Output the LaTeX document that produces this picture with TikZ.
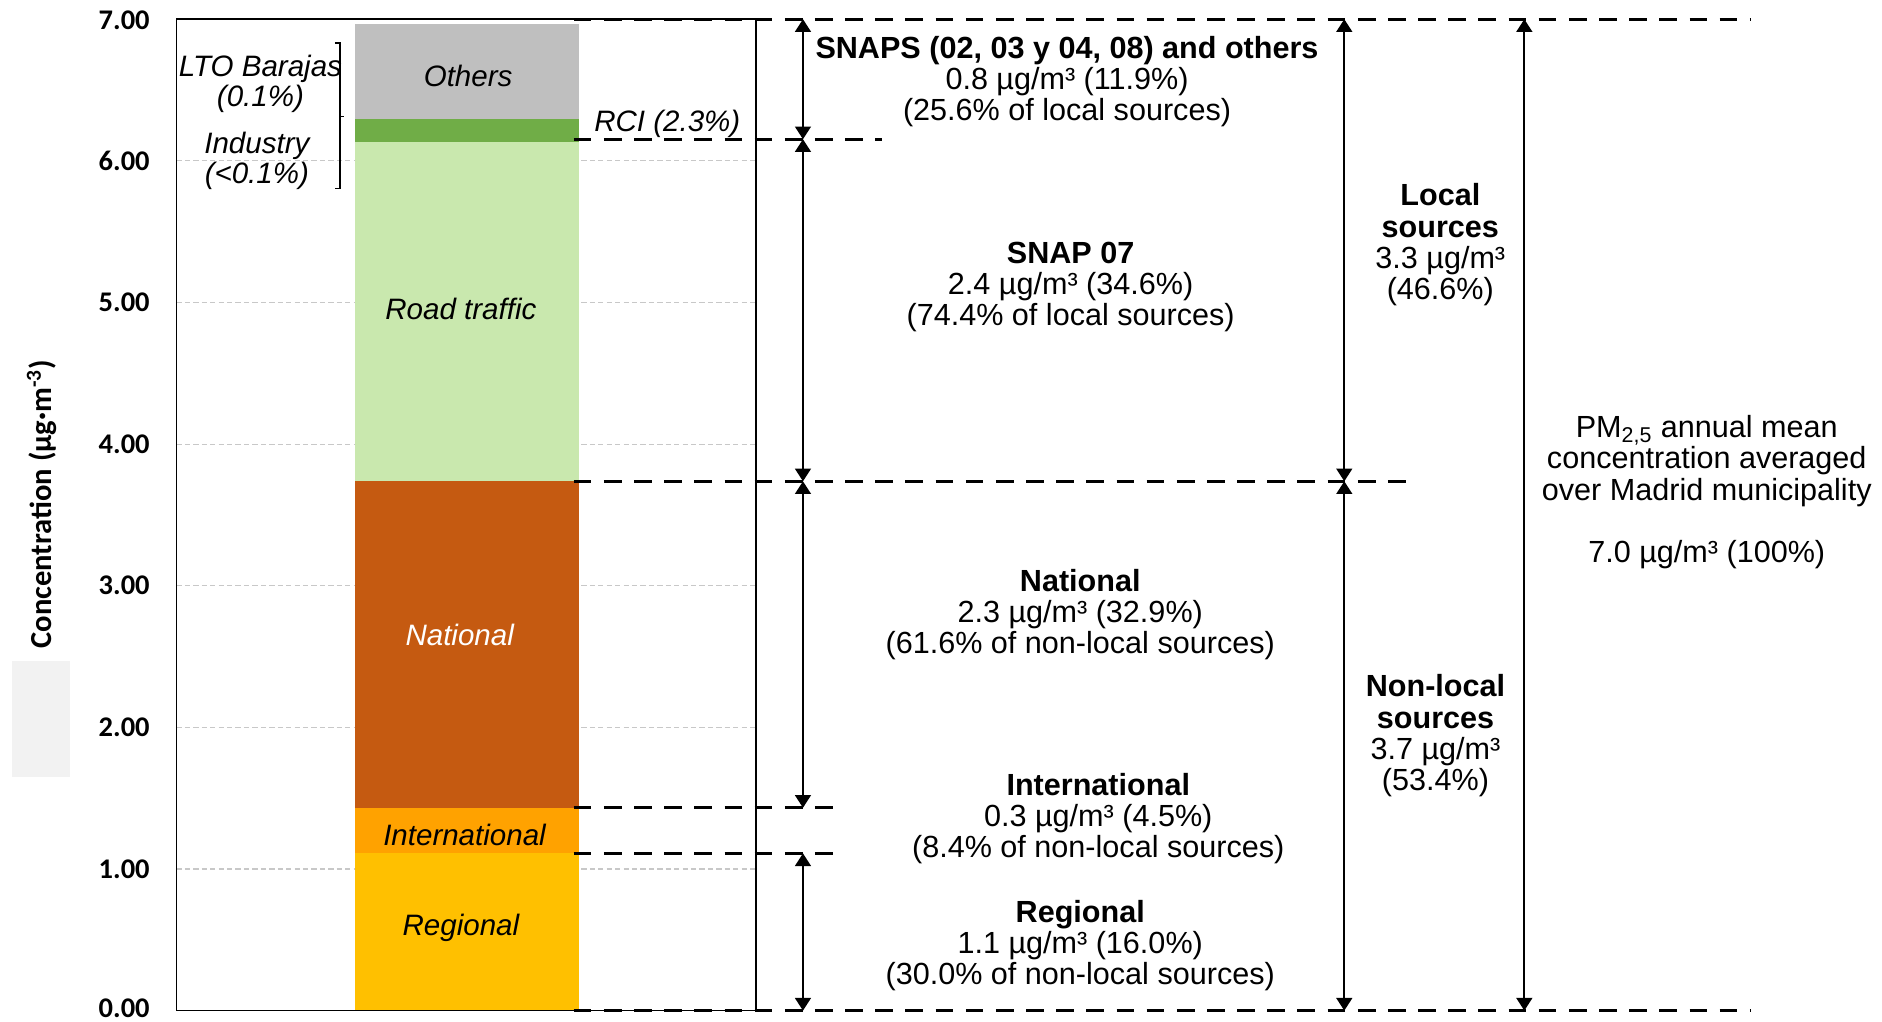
\documentclass[tikz,border=0pt]{standalone}
\usepackage{fontspec}
\setmainfont{Liberation Sans}
\newfontfamily\calibri{Carlito}
\usepackage{tikz}
\usetikzlibrary{arrows.meta}
\definecolor{regional}{HTML}{FFC000}
\definecolor{intl}{HTML}{FFA200}
\definecolor{national}{HTML}{C55A11}
\definecolor{road}{HTML}{C9E8AE}
\definecolor{rci}{HTML}{70AD47}
\definecolor{others}{HTML}{BFBFBF}
\definecolor{gridgray}{HTML}{C8C8C8}
\definecolor{boxgray}{HTML}{F2F2F2}

\begin{document}
\begin{tikzpicture}[x=0.02cm,y=-0.02cm,
    ticklabel/.style={font={\calibri\bfseries\fontsize{13.5}{14}\selectfont},anchor=east,inner sep=0pt},
    barlabel/.style={font={\fontsize{14}{15}\selectfont\itshape},inner sep=0pt},
    sidelabel/.style={font={\fontsize{14}{14.2}\selectfont\itshape},align=center,inner sep=0pt},
    info/.style={font={\fontsize{14.5}{14.8}\selectfont},align=center,inner sep=0pt},
    gridline/.style={draw=gridgray,line width=0.5pt,dash pattern=on 2.5pt off 1.5pt},
    levelline/.style={line width=1.6pt,dash pattern=on 8.4pt off 5.9pt},
    spanarrow/.style={line width=0.9pt,{Triangle[width=7.5pt,length=6pt]}-{Triangle[width=7.5pt,length=6pt]}}]
  \useasboundingbox (0,0) rectangle (1568,851);

  \fill[boxgray] (10,551) rectangle (58,647);
  \node[rotate=90,inner sep=0pt,font={\calibri\bfseries\fontsize{14.5}{15}\selectfont}](ylabel) at (35,420){Concentration (µg·m\textsuperscript{-3})};

  \node[ticklabel](y7) at (125,17){7.00};
  \node[ticklabel](y6) at (125,134){6.00};
  \node[ticklabel](y5) at (125,252){5.00};
  \node[ticklabel](y4) at (125,370){4.00};
  \node[ticklabel](y3) at (125,488){3.00};
  \node[ticklabel](y2) at (125,606){2.00};
  \node[ticklabel](y1) at (125,724){1.00};
  \node[ticklabel](y0) at (125,840){0.00};

  \draw[gridline] (147,134) -- (630,134);
  \draw[gridline] (147,252) -- (630,252);
  \draw[gridline] (147,370) -- (630,370);
  \draw[gridline] (147,488) -- (630,488);
  \draw[gridline] (147,606) -- (630,606);
  \draw[gridline] (147,724) -- (630,724);

  \fill[regional] (296,711) rectangle (482,842);
  \fill[intl] (296,673) rectangle (482,711);
  \fill[national] (296,401) rectangle (482,673);
  \fill[road] (296,118) rectangle (482,401);
  \fill[rci] (296,99) rectangle (482,118);
  \fill[others] (296,20) rectangle (482,99);
  \draw[line width=0.7pt] (147,16) rectangle (630,842);

  \node[barlabel](others) at (390,63){Others};
  \node[barlabel](road) at (384,257){Road traffic};
  \node[barlabel,text=white](national) at (383,529){National};
  \node[barlabel](intl) at (387,696){International};
  \node[barlabel](regional) at (384,773){Regional};

  \node[sidelabel](lto) at (217,70){LTO Barajas\\(0.1\%)};
  \node[sidelabel](industry) at (214,134){Industry\\(<0.1\%)};
  \node[barlabel](rci) at (556,103){RCI (2.3\%)};
  \draw[line width=0.8pt] (279,36) -- (283,36) -- (283,157) -- (279,157);
  \draw[line width=0.8pt] (283,97) -- (287,97);

  \coordinate (lv70) at (478,16);
  \coordinate (lvrci) at (478,116);
  \coordinate (lvloc) at (478,401);
  \coordinate (lvnat) at (478,673);
  \coordinate (lvint) at (478,711);
  \coordinate (lv0) at (478,842);
  \coordinate (end70) at (1458,16);
  \coordinate (endrci) at (735,116);
  \coordinate (endloc) at (1172,401);
  \coordinate (endnat) at (702,673);
  \coordinate (endint) at (702,711);
  \coordinate (end0) at (1458,842);
  \draw[levelline] (lv70) -- (end70);
  \draw[levelline] (lvrci) -- (endrci);
  \draw[levelline] (lvloc) -- (endloc);
  \draw[levelline] (lvnat) -- (endnat);
  \draw[levelline] (lvint) -- (endint);
  \draw[levelline] (lv0) -- (end0);

  \coordinate (colsnap) at (669,0);
  \coordinate (colloc) at (1120,0);
  \coordinate (coltot) at (1270,0);
  \draw[spanarrow] (colsnap |- lv70) -- (colsnap |- lvrci);
  \draw[spanarrow] (colsnap |- lvrci) -- (colsnap |- lvloc);
  \draw[spanarrow] (colsnap |- lvloc) -- (colsnap |- lvnat);
  \draw[spanarrow] (colsnap |- lvint) -- (colsnap |- lv0);
  \draw[spanarrow] (colloc |- lv70) -- (colloc |- lvloc);
  \draw[spanarrow] (colloc |- lvloc) -- (colloc |- lv0);
  \draw[spanarrow] (coltot |- lv70) -- (coltot |- lv0);

  \node[info](snaps) at (889,68){\textbf{SNAPS (02, 03 y 04, 08) and others}\\0.8 µg/m³ (11.9\%)\\(25.6\% of local sources)};
  \node[info](snap07) at (892,239){\textbf{SNAP 07}\\2.4 µg/m³ (34.6\%)\\(74.4\% of local sources)};
  \node[info](natinfo) at (900,512){\textbf{National}\\2.3 µg/m³ (32.9\%)\\(61.6\% of non-local sources)};
  \node[info](intinfo) at (915,682){\textbf{International}\\0.3 µg/m³ (4.5\%)\\(8.4\% of non-local sources)};
  \node[info](reginfo) at (900,788){\textbf{Regional}\\1.1 µg/m³ (16.0\%)\\(30.0\% of non-local sources)};
  \node[info](local) at (1200,204){\textbf{Local}\\\textbf{sources}\\3.3 µg/m³\\(46.6\%)};
  \node[info](nonlocal) at (1196,613){\textbf{Non-local}\\\textbf{sources}\\3.7 µg/m³\\(53.4\%)};
  \node[info](total) at (1422,410){PM\textsubscript{2,5} annual mean\\concentration averaged\\over Madrid municipality\\[0.52cm]7.0 µg/m³ (100\%)};
\end{tikzpicture}
\end{document}
